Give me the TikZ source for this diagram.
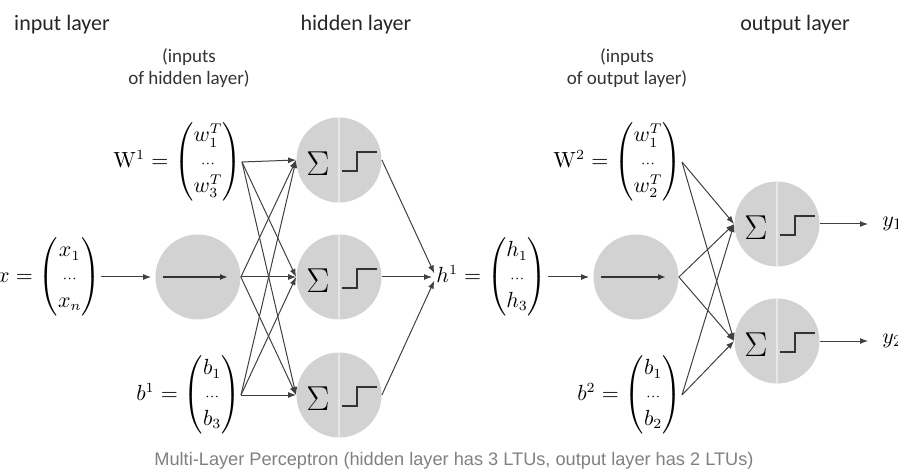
\documentclass[tikz,border=0pt]{standalone}
\usepackage{amsmath}
\usepackage[no-math]{fontspec}
\setmainfont{Carlito}
\newfontfamily\captionfont{Liberation Sans}
\usetikzlibrary{arrows.meta,positioning}
\newcommand{\vdotsrow}{{\scriptstyle\cdots}}
\setlength{\arraycolsep}{3pt}

\begin{document}
\begin{tikzpicture}[
    x=0.5pt, y=-0.5pt,
    layerlabel/.style={font=\fontsize{11}{13}\selectfont, text=black!85},
    note/.style={font=\fontsize{9.5}{11}\selectfont, align=center, text=black!80},
    vec/.style={inner sep=0pt, anchor=east, font=\fontsize{10.5}{12.6}\selectfont},
    ltu/.style={circle, fill=gray!35, minimum size=42.5pt, inner sep=0pt,
        path picture={
            \draw[gray!18, line width=0.6pt] (path picture bounding box.north) -- (path picture bounding box.south);
            \node[font=\fontsize{17}{17}\selectfont] at ([shift={(-10.5pt,-2pt)}]path picture bounding box.center) {$\Sigma$};
            \draw[line width=0.9pt, black!80] ([shift={(1.5pt,-5.5pt)}]path picture bounding box.center) -- ++(7.5pt,0pt) -- ++(0pt,9.5pt) -- ++(10pt,0pt);
        }},
    relay/.style={circle, fill=gray!35, minimum size=42.5pt, inner sep=0pt,
        path picture={
            \draw[line width=1pt, black!80, -{Latex[length=4pt,width=3pt]}] ([xshift=-17.5pt]path picture bounding box.center) -- ([xshift=15pt]path picture bounding box.center);
        }},
    link/.style={black!75, line width=0.5pt, -{Latex[length=4pt,width=3pt]}}
]
    \useasboundingbox (0,0) rectangle (898,475);

    % layer titles
    \node[layerlabel] (inlab) at (62,25) {input layer};
    \node[layerlabel] (hidlab) at (356,25) {hidden layer};
    \node[layerlabel] (outlab) at (795,25) {output layer};
    \node[note] (hidnote) at (189,68) {(inputs\\of hidden layer)};
    \node[note] (outnote) at (627,68) {(inputs\\of output layer)};

    % vectors and matrices
    \node[vec] (xvec) at (101,277) {$x = \begin{pmatrix} x_1\\ \vdotsrow\\ x_n \end{pmatrix}$};
    \node[vec] (Wone) at (242,162) {$\mathrm{W}^1 = \begin{pmatrix} w_1^T\\ \vdotsrow\\ w_3^T \end{pmatrix}$};
    \node[vec] (bone) at (241,395) {$b^1 = \begin{pmatrix} b_1\\ \vdotsrow\\ b_3 \end{pmatrix}$};
    \node[vec, anchor=west] (hvec) at (436,277) {$h^1 = \begin{pmatrix} h_1\\ \vdotsrow\\ h_3 \end{pmatrix}$};
    \node[vec] (Wtwo) at (682,162) {$\mathrm{W}^2 = \begin{pmatrix} w_1^T\\ \vdotsrow\\ w_2^T \end{pmatrix}$};
    \node[vec] (btwo) at (682,395) {$b^2 = \begin{pmatrix} b_1\\ \vdotsrow\\ b_2 \end{pmatrix}$};

    % neurons
    \node[relay] (inA) at (198,277) {};
    \node[ltu] (hidA) at (339,160) {};
    \node[ltu] (hidB) at (339,277) {};
    \node[ltu] (hidC) at (339,395) {};
    \node[relay] (inB) at (636,277) {};
    \node[ltu] (outA) at (777,224) {};
    \node[ltu] (outB) at (777,341) {};
    \node[inner sep=0pt, anchor=west, font=\fontsize{11}{13}\selectfont] (yA) at (882,224) {$y_1$};
    \node[inner sep=0pt, anchor=west, font=\fontsize{11}{13}\selectfont] (yB) at (882,341) {$y_2$};

    % connections
    \draw[link, shorten >=2pt] (xvec.east) -- (inA.west);
    \draw[link] (Wone.east) -- (hidA.west);
    \draw[link] (Wone.east) -- (hidB.west);
    \draw[link] (Wone.east) -- (hidC.west);
    \draw[link] (inA.east) -- (hidA.west);
    \draw[link] (inA.east) -- (hidB.west);
    \draw[link] (inA.east) -- (hidC.west);
    \draw[link] (bone.east) -- (hidA.west);
    \draw[link] (bone.east) -- (hidB.west);
    \draw[link] (bone.east) -- (hidC.west);
    \draw[link, shorten >=2pt] (hidA.east) -- (hvec.west);
    \draw[link, shorten >=2pt] (hidB.east) -- (hvec.west);
    \draw[link, shorten >=2pt] (hidC.east) -- (hvec.west);
    \draw[link, shorten >=2pt] (hvec.east) -- (inB.west);
    \draw[link] (Wtwo.east) -- (outA.west);
    \draw[link] (Wtwo.east) -- (outB.west);
    \draw[link] (inB.east) -- (outA.west);
    \draw[link] (inB.east) -- (outB.west);
    \draw[link] (btwo.east) -- (outA.west);
    \draw[link] (btwo.east) -- (outB.west);
    \draw[link, shorten >=7pt] (outA.east) -- (yA.west);
    \draw[link, shorten >=7pt] (outB.east) -- (yB.west);

    \node[font=\captionfont\fontsize{9.1}{11}\selectfont, text=black!50] (caption) at (454,461) {Multi-Layer Perceptron (hidden layer has 3 LTUs, output layer has 2 LTUs)};
\end{tikzpicture}
\end{document}
